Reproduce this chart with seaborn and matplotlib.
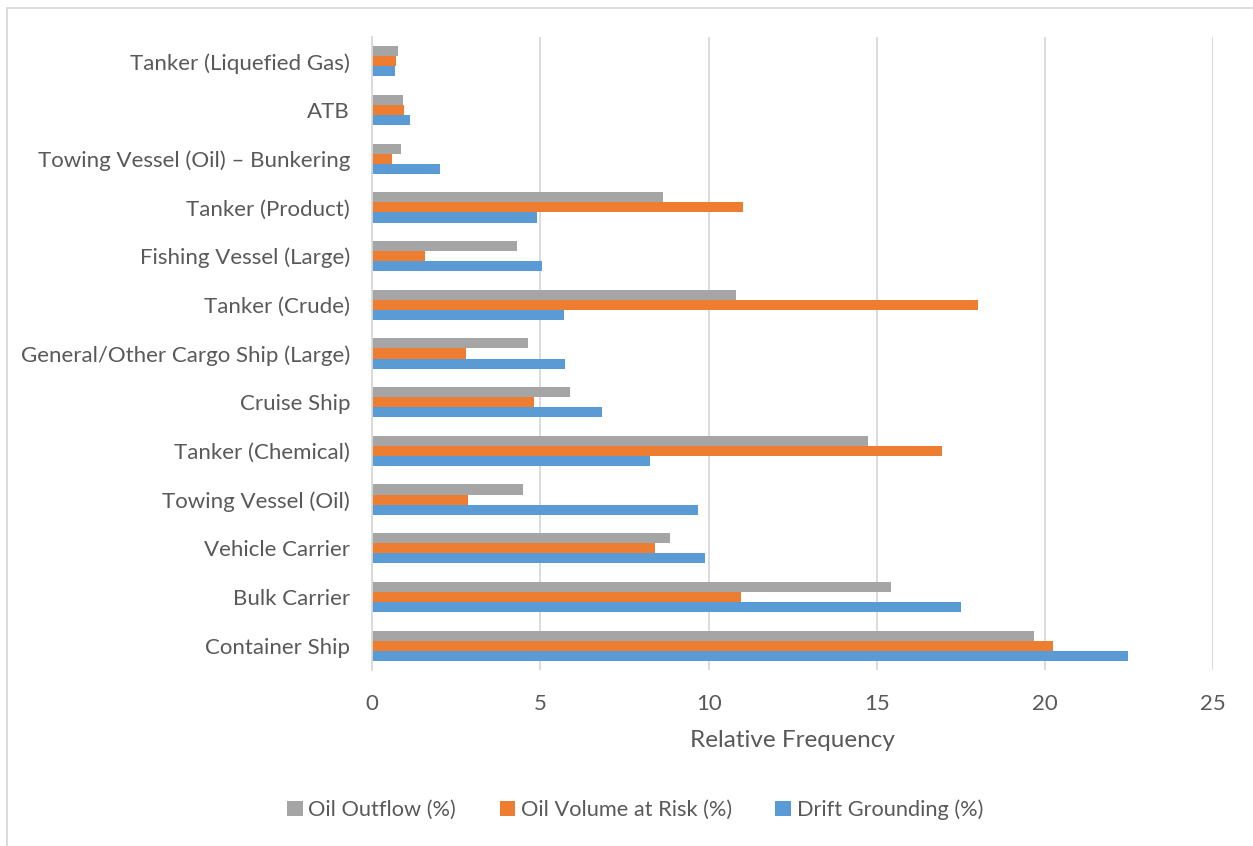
import matplotlib
matplotlib.use("Agg")
import matplotlib.pyplot as plt
import seaborn as sns
import pandas as pd
from matplotlib.patches import Rectangle, Patch

categories = [
    "Tanker (Liquefied Gas)",
    "ATB",
    "Towing Vessel (Oil) \u2013 Bunkering",
    "Tanker (Product)",
    "Fishing Vessel (Large)",
    "Tanker (Crude)",
    "General/Other Cargo Ship (Large)",
    "Cruise Ship",
    "Tanker (Chemical)",
    "Towing Vessel (Oil)",
    "Vehicle Carrier",
    "Bulk Carrier",
    "Container Ship",
]
series_names = ["Oil Outflow (%)", "Oil Volume at Risk (%)", "Drift Grounding (%)"]
oil_outflow = [0.75, 0.90, 0.84, 8.65, 4.29, 10.81, 4.63, 5.87, 14.74, 4.49, 8.84, 15.42, 19.67]
oil_volume_at_risk = [0.71, 0.95, 0.59, 11.02, 1.58, 18.01, 2.78, 4.81, 16.93, 2.85, 8.41, 10.97, 20.23]
drift_grounding = [0.68, 1.13, 2.01, 4.91, 5.06, 5.70, 5.73, 6.84, 8.26, 9.69, 9.90, 17.51, 22.47]
colors = ["#A5A5A5", "#ED7D31", "#5B9BD5"]
xticks = [0, 5, 10, 15, 20, 25]

rows = []
for name, vals in zip(series_names, [oil_outflow, oil_volume_at_risk, drift_grounding]):
    for c, v in zip(categories, vals):
        rows.append({"Category": c, "Series": name, "Value": v})
df = pd.DataFrame(rows)

sns.set_theme(style="white")
plt.rcParams["font.family"] = ["Lato", "DejaVu Sans"]
text_color = "#595959"

W, H = 1253, 846
fig = plt.figure(figsize=(W / 100, H / 100), dpi=100)
ax = fig.add_axes([372.3 / W, 1 - 670 / H, (1213 - 372.3) / W, (670 - 37) / H])

sns.barplot(data=df, y="Category", x="Value", hue="Series", order=categories,
            hue_order=series_names, palette=colors, orient="h", width=0.62,
            linewidth=0, saturation=1, ax=ax, legend=False)

ax.set_xlim(0, 25)
ax.set_ylim(12.5, -0.5)
ax.set_xticks(xticks)
ax.set_xticklabels([str(t) for t in xticks])
ax.xaxis.grid(True, color="#D9D9D9", linewidth=1.3)
ax.set_axisbelow(True)
for s in ["top", "right", "bottom"]:
    ax.spines[s].set_visible(False)
ax.spines["left"].set_color("#D9D9D9")
ax.spines["left"].set_linewidth(1.3)
ax.tick_params(axis="both", length=0, colors=text_color, labelsize=16)
ax.tick_params(axis="x", pad=17)
ax.tick_params(axis="y", pad=16)
ax.set_ylabel("")
ax.set_xlabel("Relative Frequency", fontsize=17.5, color=text_color, labelpad=12)

handles = [Patch(facecolor=c, edgecolor="none") for c in colors]
fig.legend(handles, series_names, loc="center", bbox_to_anchor=(635 / W, 1 - 810 / H),
           ncol=3, frameon=False, fontsize=15.7, handlelength=0.72, handleheight=0.72,
           handletextpad=0.25, columnspacing=2.0, labelcolor=text_color)

fig.patches.append(Rectangle((7 / W, -0.01), 1.05, 1 - 8 / H + 0.01, transform=fig.transFigure,
                             fill=False, edgecolor="#D9D9D9", linewidth=1.3))

fig.savefig("out.png", dpi=100)
